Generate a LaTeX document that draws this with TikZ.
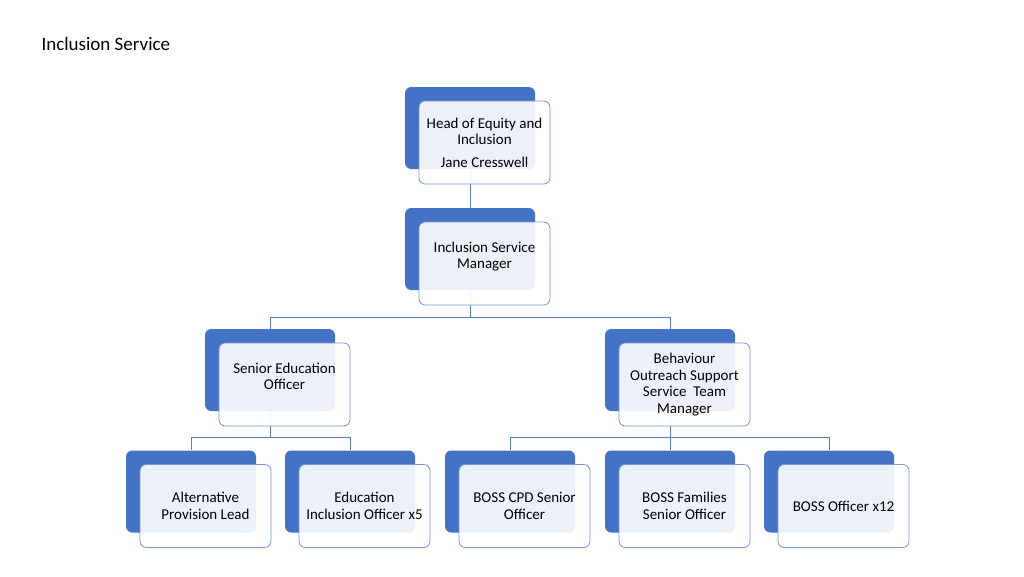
\documentclass[tikz,border=0pt]{standalone}
\usepackage{fontspec}
\setmainfont{Carlito}
\usepackage{tikz}
\usetikzlibrary{positioning, backgrounds, calc}

\definecolor{bossblue}{HTML}{4472C4}
\definecolor{edgeblue}{HTML}{7C96CF}
\definecolor{linkblue}{HTML}{5A7CC2}

\begin{document}
\begin{tikzpicture}[
  x=1pt, y=-1pt,
  font=\fontsize{15}{16.4}\selectfont,
  back/.style={fill=bossblue, rounded corners=2.2mm, minimum width=130pt,
               minimum height=82pt, inner sep=0pt},
  front/.style={draw=edgeblue, fill=white, fill opacity=0.9, text opacity=1,
                rounded corners=2.2mm, minimum width=131pt, minimum height=83pt,
                align=center, inner sep=2pt, line width=0.8pt},
  conn/.style={draw=linkblue, line width=0.9pt}
]
\useasboundingbox (0,0) rectangle (1024,576);
\node[anchor=west, font=\fontsize{19}{22}\selectfont] (title) at (38,44) {Inclusion Service};

% top two levels
\node[back] (head) at (470,128) {};
\node[front] (headF) at ([shift={(14.5,14.5)}]head.center)
  {Head of Equity and\\Inclusion\\[6pt]Jane Cresswell};
\node[back] (mgr) at (470,249) {};
\node[front] (mgrF) at ([shift={(14.5,14.5)}]mgr.center)
  {Inclusion Service\\Manager\\\mbox{}};

% middle level
\node[back] (seo) at (270,370) {};
\node[front] (seoF) at ([shift={(14.5,14.5)}]seo.center)
  {Senior Education\\Officer\\\mbox{}};
\node[back] (boss) at (670,370) {};
\node[front] (bossF) at ([shift={(14.5,14.5)}]boss.center)
  {Behaviour\\Outreach Support\\Service\ \ Team\\Manager};

% bottom level
\node[back] (alt) at (191,491.5) {};
\node[front] (altF) at ([shift={(14.5,14.5)}]alt.center)
  {Alternative\\Provision Lead};
\node[back] (eio) at (350,491.5) {};
\node[front] (eioF) at ([shift={(14.5,14.5)}]eio.center)
  {Education\\Inclusion Officer x5};
\node[back] (cpd) at (510,491.5) {};
\node[front] (cpdF) at ([shift={(14.5,14.5)}]cpd.center)
  {BOSS CPD Senior\\Officer};
\node[back] (fam) at (670,491.5) {};
\node[front] (famF) at ([shift={(14.5,14.5)}]fam.center)
  {BOSS Families\\Senior Officer};
\node[back] (off) at (829,491.5) {};
\node[front] (offF) at ([shift={(14.5,14.5)}]off.center)
  {BOSS Officer x12};

\begin{scope}[on background layer]
\draw[conn] (head.south) -- (mgr.north);
\draw[conn] (mgr.south) -- ++(0,27) -| (seo.north);
\draw[conn] (mgr.south) -- ++(0,27) -| (boss.north);
\draw[conn] (seo.south) -- ++(0,26) -| (alt.north);
\draw[conn] (seo.south) -- ++(0,26) -| (eio.north);
\draw[conn] (boss.south) -- ++(0,26) -| (cpd.north);
\draw[conn] (boss.south) -- (fam.north);
\draw[conn] (boss.south) -- ++(0,26) -| (off.north);
\end{scope}
\end{tikzpicture}
\end{document}
